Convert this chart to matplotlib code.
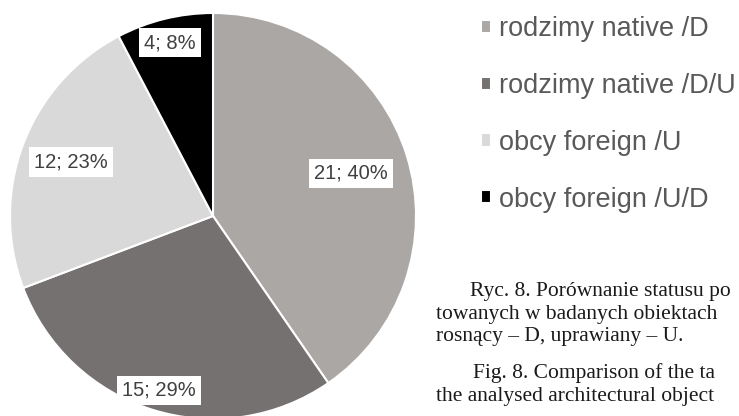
import numpy as np
import matplotlib
matplotlib.use("Agg")
import matplotlib.pyplot as plt

# data
labels = ["rodzimy native /D", "rodzimy native /D/U", "obcy foreign /U", "obcy foreign /U/D"]
counts = [21, 15, 12, 4]
percents = [40, 29, 23, 8]
colors = ["#aaa7a5", "#747170", "#d9d9d9", "#000000"]
label_dist = [0.71, 0.90, 0.75, 0.88]  # where Excel put each data label

caption_pl = ["Ryc. 8. Porównanie statusu po",
              "towanych w badanych obiektach",
              "rosnący – D, uprawiany – U."]
caption_en = ["Fig. 8. Comparison of the ta",
              "the analysed architectural object"]

W, H = 739, 416
fig = plt.figure(figsize=(W / 100, H / 100), dpi=100)
fig.patch.set_facecolor("white")

# pie: centre (213, 216) px, radius 203 px
cx, cy, r = 213, 216, 203
ax = fig.add_axes([(cx - r) / W, (H - cy - r) / H, 2 * r / W, 2 * r / H])
wedges, _ = ax.pie(counts, colors=colors, startangle=90, counterclock=False,
                   radius=1, wedgeprops=dict(edgecolor="white", linewidth=1.5))
ax.set_xlim(-1, 1)
ax.set_ylim(-1, 1)
ax.set_aspect("equal")
ax.axis("off")

for w, n, p, d in zip(wedges, counts, percents, label_dist):
    ang = np.deg2rad((w.theta1 + w.theta2) / 2)
    ax.text(d * np.cos(ang), d * np.sin(ang), f"{n}; {p}%", ha="center", va="center",
            fontsize=14.5, color="#404040", family="Liberation Sans",
            bbox=dict(boxstyle="square,pad=0.25", fc="white", ec="none"))

leg = fig.legend(wedges, labels, loc="upper left", bbox_to_anchor=(481 / W, 1 - 16 / H),
                 frameon=False, prop=dict(family="Liberation Sans", size=19.5),
                 handlelength=0.37, handleheight=0.37, handletextpad=0.3,
                 labelspacing=1.14, borderpad=0, borderaxespad=0)
for t in leg.get_texts():
    t.set_color("#595959")

# caption beside the chart
serif = dict(family="Liberation Serif", size=15.5, color="#1a1a1a", va="baseline")
fig.text(470 / W, 1 - 296 / H, caption_pl[0], **serif)
fig.text(436 / W, 1 - 319 / H, caption_pl[1], **serif)
fig.text(436 / W, 1 - 341 / H, caption_pl[2], **serif)
fig.text(473 / W, 1 - 378 / H, caption_en[0], **serif)
fig.text(436 / W, 1 - 401 / H, caption_en[1], **serif)

fig.savefig("out.png", dpi=100)
